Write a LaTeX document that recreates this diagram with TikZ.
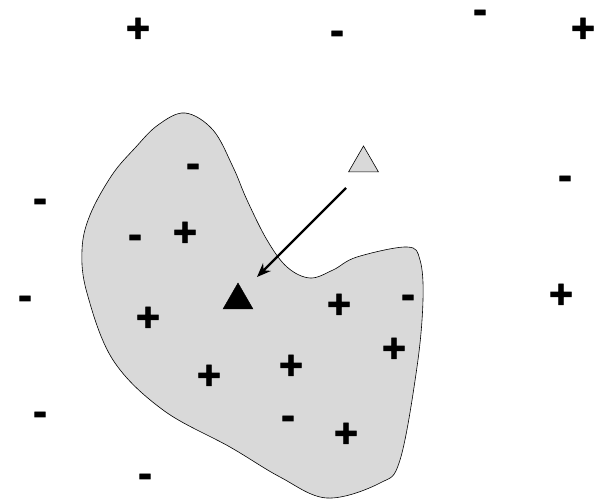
\documentclass[tikz,border=0pt]{standalone}
\usepackage{fontspec}
\setmainfont{Liberation Sans}
\newfontfamily\signfont{Liberation Sans Bold}[FakeBold=2]
\usetikzlibrary{arrows.meta,shapes.geometric}
\definecolor{regiongray}{RGB}{217,217,217}

\begin{document}
\begin{tikzpicture}[x=1pt,y=-1pt,>={Stealth[length=14pt,width=11pt]},
 sign/.style={inner sep=0pt,font=\fontsize{41}{41}\signfont},
 minus/.style={sign,yshift=-4.5pt},
 tri/.style={regular polygon,regular polygon sides=3,minimum size=34.6pt,
 inner sep=0pt,draw=black}]
 \useasboundingbox (0,0) rectangle (597,502);
 % region of the concept
 \draw[fill=regiongray,line width=0.6pt] plot[smooth cycle,tension=0.6] coordinates {
  (185,113) (213,130) (233,167) (247,200) (267,240) (287,267) (310,278)
  (333,270) (357,257) (407,247) (420,260) (423,300) (417,367) (400,460)
  (380,483) (327,498) (280,477) (230,447) (163,410) (113,360) (87,293)
  (82,250) (90,215) (112,175) (135,148) (158,125)};
 % positive examples
 \foreach \x/\y [count=\i] in {138/30,583/30,561/296,185/234,148/319,339/306,
  394/350,291/367,209/377,346/435}
   \node[sign] (p\i) at (\x,\y) {+};
 % negative examples
 \foreach \x/\y [count=\i] in {337/33,480/12,565/178,40/201,25/298,40/414,
  145/476,193/166,135/237,408/297,288/418}
   \node[minus] (m\i) at (\x,\y) {-};
 \node[tri,fill=regiongray,line width=0.6pt] (q) at (363.5,163.3) {};
 \node[tri,fill=black] (t) at (238,300.3) {};
 \coordinate (a1) at (346,188);
 \coordinate (a2) at (257,277);
 \draw[->,line width=2.2pt] (a1) -- (a2);
\end{tikzpicture}
\end{document}
